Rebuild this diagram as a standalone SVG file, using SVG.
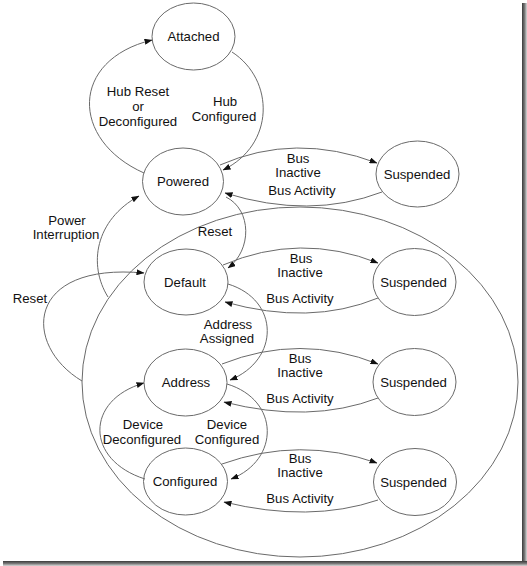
<svg xmlns="http://www.w3.org/2000/svg" width="527" height="566" viewBox="0 0 527 566">
<style>
.n{fill:none;stroke:#6a6a6a;stroke-width:1}
.c{fill:none;stroke:#6a6a6a;stroke-width:1;marker-end:url(#ah)}
text{font-family:"Liberation Sans",Arial,sans-serif;font-size:13.2px;fill:#111;text-anchor:middle}
</style>
<defs>
<marker id="ah" markerWidth="8" markerHeight="6" refX="7.5" refY="3" orient="auto" markerUnits="userSpaceOnUse">
<path d="M0,0 L8,3 L0,6 Z" fill="#111"/>
</marker>
<linearGradient id="sr" x1="0" y1="0" x2="1" y2="0">
<stop offset="0" stop-color="#3a3a3a"/><stop offset="0.5" stop-color="#777"/><stop offset="1" stop-color="#d8d8d8"/>
</linearGradient>
<linearGradient id="sb" x1="0" y1="0" x2="0" y2="1">
<stop offset="0" stop-color="#3a3a3a"/><stop offset="0.5" stop-color="#777"/><stop offset="1" stop-color="#d8d8d8"/>
</linearGradient>
</defs>
<rect x="0" y="0" width="527" height="566" fill="#fff"/>
<rect x="522" y="3" width="5" height="563" fill="url(#sr)"/>
<rect x="3" y="561" width="524" height="5" fill="url(#sb)"/>

<g id="connectors">
<ellipse id="group" class="n" cx="300" cy="382" rx="218" ry="175"/>
<path class="c" d="M144,173 C70,140 70,60 152,40"/>
<path class="c" d="M232,52 C275,80 275,145 223,170"/>
<path class="c" d="M220,165 Q295,132 377,163"/>
<path class="c" d="M382,192 Q310,219.5 225,193"/>
<path class="c" d="M226,197 C252,210 252,250 228,268"/>
<path class="c" d="M108,297 C88,265 95,220 139,196"/>
<path class="c" d="M82,381 C22,345 25,262 144,273"/>
<path class="c" d="M223,265 Q300,232 378,263"/>
<path class="c" d="M378,298 Q310,326 225,302"/>
<path class="c" d="M228,284 C280,300 280,360 230,380"/>
<path class="c" d="M222,364 Q300,333 378,364"/>
<path class="c" d="M378,398 Q310,424 224,402"/>
<path class="c" d="M227,384 C280,400 280,460 231,479"/>
<path class="c" d="M145,479 C85,460 85,400 144,383"/>
<path class="c" d="M222,464 Q300,436 377,463"/>
<path class="c" d="M378,500 Q310,523 224,502"/>
</g>

<g id="attached"><ellipse class="n" cx="193.5" cy="36.5" rx="41.5" ry="33.5"/><text x="193.5" y="41">Attached</text></g>
<g id="powered"><ellipse class="n" cx="183" cy="181.5" rx="40.5" ry="33.5"/><text x="183" y="186">Powered</text></g>
<g id="suspended1"><ellipse class="n" cx="417.5" cy="174" rx="41.5" ry="33"/><text x="417" y="178.5">Suspended</text></g>
<g id="default"><ellipse class="n" cx="186" cy="282" rx="42" ry="33"/><text x="185" y="286.5">Default</text></g>
<g id="suspended2"><ellipse class="n" cx="414.5" cy="282" rx="41.5" ry="33.5"/><text x="413.5" y="286.5">Suspended</text></g>
<g id="address"><ellipse class="n" cx="185.5" cy="382.5" rx="41.5" ry="33.5"/><text x="186" y="387">Address</text></g>
<g id="suspended3"><ellipse class="n" cx="414.5" cy="382" rx="41.5" ry="33.5"/><text x="413.5" y="386.5">Suspended</text></g>
<g id="configured"><ellipse class="n" cx="185.5" cy="481.5" rx="42" ry="33.5"/><text x="185" y="486">Configured</text></g>
<g id="suspended4"><ellipse class="n" cx="415" cy="482" rx="41.5" ry="33.5"/><text x="413.5" y="486.5">Suspended</text></g>

<g id="labels">
<text x="138" y="96.3">Hub Reset</text>
<text x="138" y="111">or</text>
<text x="138" y="125.7">Deconfigured</text>
<text x="225" y="106">Hub</text>
<text x="224" y="120.7">Configured</text>
<text x="298" y="162.5">Bus</text>
<text x="298" y="177.2">Inactive</text>
<text x="302" y="195">Bus Activity</text>
<text x="67" y="224.7">Power</text>
<text x="66" y="239.4">Interruption</text>
<text x="215" y="235.5">Reset</text>
<text x="30" y="302.5">Reset</text>
<text x="301" y="262.5">Bus</text>
<text x="300" y="277.2">Inactive</text>
<text x="300" y="303">Bus Activity</text>
<text x="228" y="328.7">Address</text>
<text x="227" y="343.4">Assigned</text>
<text x="300" y="362.5">Bus</text>
<text x="300" y="377.2">Inactive</text>
<text x="300" y="402.5">Bus Activity</text>
<text x="143" y="429.2">Device</text>
<text x="142" y="443.9">Deconfigured</text>
<text x="227" y="429.2">Device</text>
<text x="227" y="443.9">Configured</text>
<text x="300" y="462.5">Bus</text>
<text x="300" y="477.2">Inactive</text>
<text x="300" y="503">Bus Activity</text>
</g>
</svg>
